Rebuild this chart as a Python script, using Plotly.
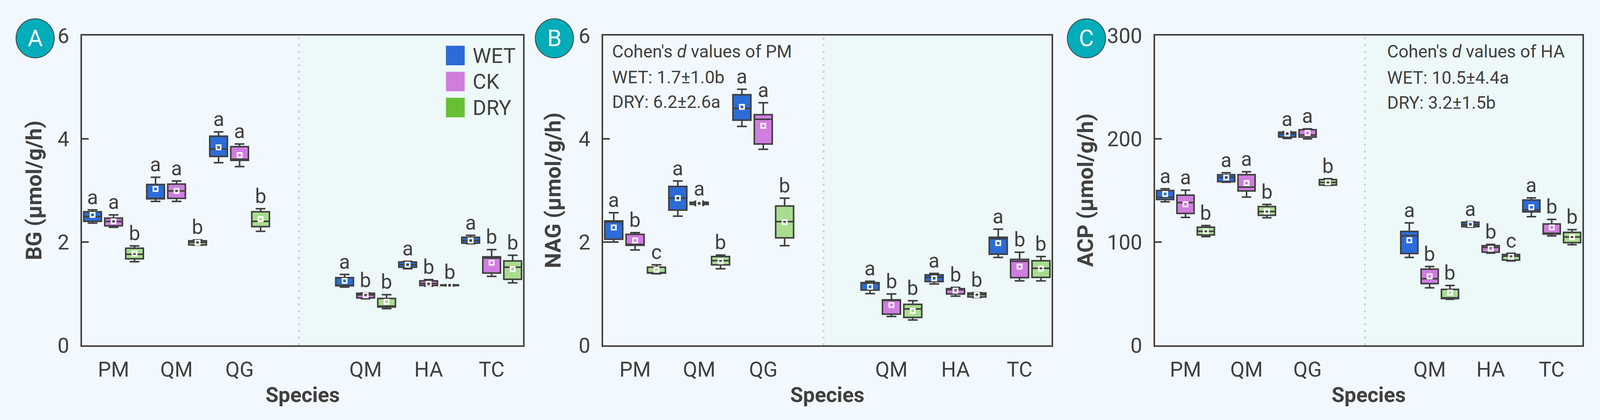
import plotly.graph_objects as go

# pixel positions below are measured in the 4505 x 1074 reference picture;
# they are turned into paper fractions so the figure fills the window it gets
REF_W, REF_H = 4505, 1074

SPECIES = ["PM", "QM", "QG", "QM", "HA", "TC"]
CAT_POS = [1, 2, 3, 5, 6, 7]
TREATMENTS = ["WET", "CK", "DRY"]

# ---------------- Panel A : BG ----------------
BG_LOW = {"WET": [2.367, 2.788, 3.538, 1.129, 1.483, 1.967],
          "CK":  [2.286, 2.788, 3.462, 0.902, 1.146, 1.336],
          "DRY": [1.620, 1.940, 2.208, 0.710, 1.152, 1.210]}
BG_Q1 = {"WET": [2.402, 2.838, 3.659, 1.154, 1.513, 1.980],
         "CK":  [2.314, 2.846, 3.583, 0.919, 1.159, 1.399],
         "DRY": [1.676, 1.945, 2.300, 0.742, 1.158, 1.278]}
BG_MED = {"WET": [2.491, 2.845, 3.803, 1.160, 1.563, 2.030],
          "CK":  [2.400, 2.990, 3.604, 0.977, 1.197, 1.689],
          "DRY": [1.764, 1.992, 2.402, 0.760, 1.164, 1.513]}
BG_Q3 = {"WET": [2.588, 3.116, 4.051, 1.311, 1.614, 2.093],
         "CK":  [2.464, 3.123, 3.848, 1.008, 1.248, 1.714],
         "DRY": [1.881, 2.025, 2.588, 0.907, 1.170, 1.634]}
BG_UP = {"WET": [2.624, 3.255, 4.134, 1.373, 1.626, 2.131],
         "CK":  [2.527, 3.184, 3.899, 1.015, 1.273, 1.854],
         "DRY": [1.926, 2.042, 2.646, 0.982, 1.175, 1.745]}
BG_MEAN = {"WET": [2.527, 3.028, 3.836, 1.248, 1.563, 2.030],
           "CK":  [2.402, 2.990, 3.684, 0.970, 1.190, 1.600],
           "DRY": [1.779, 1.986, 2.444, 0.843, 1.163, 1.475]}
BG_LET = {"WET": ["a", "a", "a", "a", "a", "a"],
          "CK":  ["a", "a", "a", "b", "b", "b"],
          "DRY": ["b", "b", "b", "b", "b", "b"]}

# ---------------- Panel B : NAG ----------------
NAG_LOW = {"WET": [2.000, 2.502, 4.240, 1.002, 1.189, 1.702],
           "CK":  [1.846, 2.710, 3.798, 0.558, 0.952, 1.248],
           "DRY": [1.386, 1.483, 1.930, 0.490, 0.927, 1.248]}
NAG_Q1 = {"WET": [2.055, 2.619, 4.361, 1.071, 1.235, 1.765],
          "CK":  [1.937, 2.730, 3.899, 0.604, 0.995, 1.311],
          "DRY": [1.399, 1.558, 2.081, 0.540, 0.937, 1.316]}
NAG_MED = {"WET": [2.390, 2.851, 4.589, 1.200, 1.316, 2.068],
           "CK":  [1.955, 2.750, 4.379, 0.869, 1.080, 1.627],
           "DRY": [1.400, 1.640, 2.396, 0.705, 0.982, 1.492]}
NAG_Q3 = {"WET": [2.409, 3.078, 4.854, 1.214, 1.366, 2.093],
          "CK":  [2.149, 2.770, 4.467, 0.881, 1.096, 1.664],
          "DRY": [1.513, 1.720, 2.699, 0.793, 1.013, 1.639]}
NAG_UP = {"WET": [2.568, 3.184, 4.960, 1.240, 1.392, 2.250],
          "CK":  [2.182, 2.790, 4.699, 0.995, 1.121, 1.803],
          "DRY": [1.558, 1.748, 2.851, 0.864, 1.020, 1.720]}
NAG_MEAN = {"WET": [2.283, 2.850, 4.619, 1.134, 1.298, 1.980],
            "CK":  [2.030, 2.750, 4.252, 0.780, 1.058, 1.525],
            "DRY": [1.462, 1.626, 2.384, 0.667, 0.975, 1.487]}
NAG_LET = {"WET": ["a", "a", "a", "a", "a", "a"],
           "CK":  ["b", "a", "a", "b", "b", "b"],
           "DRY": ["c", "b", "b", "b", "b", "b"]}

# ---------------- Panel C : ACP ----------------
ACP_LOW = {"WET": [139.0, 158.0, 200.4, 85.1, 114.5, 124.6],
           "CK":  [123.9, 143.6, 200.0, 55.7, 89.3, 106.0],
           "DRY": [105.3, 123.6, 154.9, 44.6, 81.7, 97.4]}
ACP_Q1 = {"WET": [141.2, 158.5, 201.7, 88.9, 115.0, 129.3],
          "CK":  [127.7, 149.5, 201.7, 59.8, 90.2, 107.8],
          "DRY": [106.9, 125.9, 155.2, 45.3, 82.6, 99.4]}
ACP_MED = {"WET": [143.5, 162.8, 204.7, 106.2, 116.9, 131.2],
           "CK":  [138.3, 153.2, 203.7, 64.5, 94.8, 108.5],
           "DRY": [110.4, 129.5, 157.8, 46.0, 86.4, 104.9]}
ACP_Q3 = {"WET": [149.9, 165.2, 206.4, 110.3, 119.2, 140.7],
          "CK":  [145.5, 165.2, 208.8, 73.8, 96.5, 117.5],
          "DRY": [114.4, 134.4, 160.5, 54.2, 88.0, 109.4]}
ACP_UP = {"WET": [151.6, 167.1, 207.0, 118.6, 119.8, 142.8],
          "CK":  [150.3, 168.1, 209.7, 76.3, 97.7, 122.0],
          "DRY": [116.0, 136.5, 161.4, 58.0, 89.1, 112.0]}
ACP_MEAN = {"WET": [146.6, 162.5, 205.0, 101.8, 117.3, 133.7],
            "CK":  [136.6, 157.2, 205.7, 66.8, 93.6, 114.1],
            "DRY": [110.4, 129.5, 157.8, 51.0, 85.7, 104.7]}
ACP_LET = {"WET": ["a", "a", "a", "a", "a", "a"],
           "CK":  ["a", "a", "a", "b", "b", "b"],
           "DRY": ["b", "b", "b", "b", "c", "b"]}

COHEN_B = ["Cohen's <i>d</i> values of PM", "WET: 1.7±1.0b", "DRY: 6.2±2.6a"]
COHEN_C = ["Cohen's <i>d</i> values of HA", "WET: 10.5±4.4a", "DRY: 3.2±1.5b"]

# ---------------- styling ----------------
FONT = "Roboto"
DARK = "#404040"
PAGE_BG = "#f2f9fe"
RIGHT_BG = "#edf9f9"
FILL = {"WET": "#2b6cd8", "CK": "#d07de0", "DRY": "#a8dd8f"}
LEG = {"WET": "#2b6cd8", "CK": "#cf7ddf", "DRY": "#67bf33"}
OFFSET = {"WET": -1 / 3, "CK": 0.0, "DRY": 1 / 3}
FS = 0.953  # font compromise for the narrower window

TOP, BOT = 91, 883


def px(x):
    return x / REF_W


def py(y):
    return 1 - y / REF_H


def fnt(size, color=DARK):
    return dict(family=FONT, size=round(size * FS, 1), color=color)


panels = [
    dict(sfx="", x0=231, x1=1473, yr=[0, 6], yt=[0, 2, 4, 6], title="BG (μmol/g/h)",
         tx=96, cx=99, lab="A",
         d=(BG_LOW, BG_Q1, BG_MED, BG_Q3, BG_UP, BG_MEAN, BG_LET)),
    dict(sfx="2", x0=1698, x1=2961, yr=[0, 6], yt=[0, 2, 4, 6], title="NAG (μmol/g/h)",
         tx=1557, cx=1561, lab="B",
         d=(NAG_LOW, NAG_Q1, NAG_MED, NAG_Q3, NAG_UP, NAG_MEAN, NAG_LET)),
    dict(sfx="3", x0=3252, x1=4455, yr=[0, 300], yt=[0, 100, 200, 300], title="ACP (μmol/g/h)",
         tx=3056, cx=3059, lab="C",
         d=(ACP_LOW, ACP_Q1, ACP_MED, ACP_Q3, ACP_UP, ACP_MEAN, ACP_LET)),
]

fig = go.Figure()
annotations = []
shapes = []
layout = {}

for p in panels:
    xa, ya = "x" + p["sfx"], "y" + p["sfx"]
    low, q1, med, q3, up, mean, let = p["d"]
    for t in TREATMENTS:
        xs = [c + OFFSET[t] for c in CAT_POS]
        fig.add_trace(go.Box(
            x=xs, q1=q1[t], median=med[t], q3=q3[t],
            lowerfence=low[t], upperfence=up[t],
            width=0.28, whiskerwidth=0.55,
            fillcolor=FILL[t], line=dict(color=DARK, width=4),
            boxpoints=False, showlegend=False, name=t,
            xaxis=xa, yaxis=ya, hoverinfo="skip"))
        fig.add_trace(go.Scatter(
            x=xs, y=mean[t], mode="markers",
            marker=dict(symbol="square-open", size=11, color="white",
                        line=dict(width=4, color="white")),
            showlegend=False, xaxis=xa, yaxis=ya, hoverinfo="skip"))
        for xv, yv, s in zip(xs, up[t], let[t]):
            annotations.append(dict(x=xv, y=yv, xref=xa, yref=ya, text=s,
                                    showarrow=False, yanchor="bottom", yshift=0,
                                    font=fnt(54)))
    layout["xaxis" + p["sfx"]] = dict(
        domain=[px(p["x0"]), px(p["x1"])], range=[0.5, 7.5], anchor=ya,
        tickvals=CAT_POS, ticktext=SPECIES, ticks="", showgrid=False, zeroline=False,
        showline=True, mirror=True, linecolor=DARK, linewidth=4, automargin=False,
        tickfont=fnt(56), ticklabelstandoff=12)
    layout["yaxis" + p["sfx"]] = dict(
        domain=[py(BOT), py(TOP)], range=p["yr"], anchor=xa,
        tickvals=p["yt"], ticks="inside", ticklen=17, tickwidth=4, tickcolor=DARK,
        showgrid=False, zeroline=False, showline=True, mirror=True, automargin=False,
        linecolor=DARK, linewidth=4,
        tickfont=fnt(56), ticklabelstandoff=18)
    shapes.append(dict(type="rect", xref=xa, yref=ya + " domain", x0=3.94, x1=7.5,
                       y0=0, y1=1, fillcolor=RIGHT_BG, line=dict(width=0), layer="below"))
    shapes.append(dict(type="line", xref=xa, yref=ya + " domain", x0=3.94, x1=3.94,
                       y0=0, y1=1, line=dict(color="#c3d6d8", width=5, dash="5px,12px"),
                       layer="below"))
    annotations.append(dict(x=px(p["tx"]), y=py((TOP + BOT) / 2), xref="paper", yref="paper",
                            text="<b>" + p["title"] + "</b>", textangle=-90, showarrow=False,
                            xanchor="center", yanchor="middle", font=fnt(58)))
    annotations.append(dict(x=px((p["x0"] + p["x1"]) / 2), y=py(1009), xref="paper", yref="paper",
                            text="<b>Species</b>", showarrow=False,
                            xanchor="center", yanchor="middle", font=fnt(56)))
    shapes.append(dict(type="circle", xref="paper", yref="paper",
                       xsizemode="pixel", ysizemode="pixel",
                       xanchor=px(p["cx"]), yanchor=py(98),
                       x0=-49, x1=49, y0=-50, y1=50,
                       fillcolor="#02acb9", line=dict(color=DARK, width=2)))
    annotations.append(dict(x=px(p["cx"]), y=py(98), xref="paper", yref="paper",
                            text=p["lab"], showarrow=False, xanchor="center", yanchor="middle",
                            font=fnt(62, "white")))

# legend of panel A (square keys)
for i, t in enumerate(TREATMENTS):
    yc = 142 + i * 66.5
    shapes.append(dict(type="rect", xref="paper", yref="paper",
                       xsizemode="pixel", ysizemode="pixel",
                       xanchor=px(1282), yanchor=py(yc),
                       x0=-24, x1=24, y0=-25, y1=25,
                       fillcolor=LEG[t], line=dict(width=0)))
    annotations.append(dict(x=px(1282), y=py(yc), xref="paper", yref="paper",
                            text=t, showarrow=False, xanchor="left", yanchor="middle",
                            xshift=42, font=fnt(56)))

# Cohen's d texts: B left-aligned from its left edge, C kept inside the right frame
for s, yy in zip(COHEN_B, [132, 198, 261]):
    annotations.append(dict(x=px(1721), y=py(yy), xref="paper", yref="paper",
                            text=s, showarrow=False, xanchor="left", yanchor="middle",
                            font=fnt(47)))
c_width = 510 * FS
for s, yy in zip(COHEN_C, [132, 199, 262]):
    annotations.append(dict(x=px(4438), y=py(yy), xref="paper", yref="paper",
                            text=s, showarrow=False, xanchor="left", yanchor="middle",
                            xshift=-c_width, font=fnt(47)))

fig.update_layout(
    template="none", autosize=True, margin=dict(l=0, r=0, t=0, b=0, pad=0),
    paper_bgcolor=PAGE_BG, plot_bgcolor=PAGE_BG,
    boxmode="overlay", showlegend=False,
    annotations=annotations, shapes=shapes, **layout)

fig.write_html("out.html", default_width="100vw", default_height="100vh",
               config={"displayModeBar": False},
               post_script="document.body.style.margin='0';document.body.style.overflow='hidden';")
